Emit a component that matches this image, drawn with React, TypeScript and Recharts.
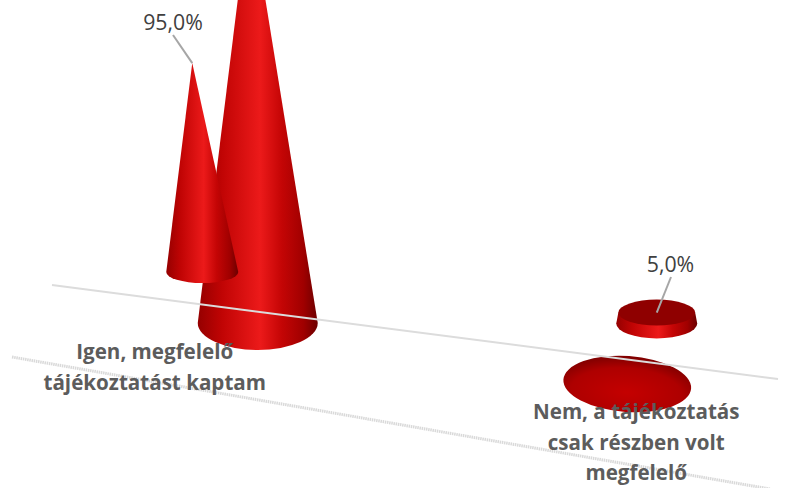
import { BarChart, Bar, XAxis, YAxis, LabelList, ReferenceLine } from "recharts";

const categories = [
  "Igen, megfelelő tájékoztatást kaptam",
  "Nem, a tájékoztatás csak részben volt megfelelő",
];
const backValues = [95, 5];
const frontValues = [100, 0];

const data = categories.map((name, i) => ({
  name,
  back: backValues[i],
  front: frontValues[i],
}));

// perspective placement of each cone, relative to the bar the scale gives
const BACK_SPOTS = [
  { dx: -36.75, dy: -148, rx: 36, ry: 11, lean: -10, tilt: 0 },
  { dx: 20.25, dy: -96.5, rx: 40.5, ry: 15, lean: 0, tilt: 0 },
];
const FRONT_SPOTS = [
  { dx: 98.75, dy: -97, rx: 60, ry: 27, lean: -8, tilt: 0 },
  { dx: 70.75, dy: -36, rx: 64, ry: 28, lean: 0, tilt: 4 },
];
const LABEL_SPOTS = [
  { x: 173, y: 30, lineX: 173, lineY: 35 },
  { x: 670.5, y: 272, lineX: 671, lineY: 277 },
];
const TICK_SPOTS = [
  { dx: -44, y: 359 },
  { dx: 40, y: 419 },
];

function Cone({ x, y, width, height, index, value, spots, maxValue }: any) {
  const s = spots[index];
  const cx = x + width / 2 + s.dx;
  const baseY = y + height + s.dy;
  if (height < 1) {
    return (
      <ellipse
        cx={cx}
        cy={baseY}
        rx={s.rx}
        ry={s.ry}
        fill="url(#flatFill)"
        transform={`rotate(${s.tilt} ${cx} ${baseY})`}
      />
    );
  }
  const taper = 1 - value / maxValue;
  const topX = cx + s.lean * (value / maxValue);
  const topY = baseY - height;
  const rt = s.rx * taper;
  const d =
    `M${cx - s.rx} ${baseY} L${topX - rt} ${topY} L${topX + rt} ${topY} ` +
    `L${cx + s.rx} ${baseY} A${s.rx} ${s.ry} 0 0 1 ${cx - s.rx} ${baseY} Z`;
  return (
    <g>
      <path d={d} fill="url(#coneFill)" />
      {taper > 0.01 && (
        <ellipse cx={topX} cy={topY} rx={rt} ry={s.ry * 0.86} fill="#8f0000" />
      )}
    </g>
  );
}

function ValueLabel({ x, y, width, index, value }: any) {
  const s = LABEL_SPOTS[index];
  const b = BACK_SPOTS[index];
  const tipX = x + width / 2 + b.dx + b.lean * (value / Math.max(...backValues));
  const tipY = y + b.dy;
  return (
    <g>
      <line x1={s.lineX} y1={s.lineY} x2={tipX} y2={tipY} stroke="#a6a6a6" strokeWidth={2} />
      <text
        x={s.x}
        y={s.y}
        textAnchor="middle"
        fontFamily="Open Sans"
        fontSize={21.3}
        fill="#404040"
      >
        {value.toFixed(1).replace(".", ",") + "%"}
      </text>
    </g>
  );
}

function wrapWords(label: string, maxChars: number) {
  const lines: string[] = [];
  let cur = "";
  label.split(" ").forEach((w) => {
    const next = cur ? cur + " " + w : w;
    if (next.length > maxChars) {
      lines.push(cur);
      cur = w;
    } else {
      cur = next;
    }
  });
  lines.push(cur);
  return lines;
}

function CategoryTick({ x, index, payload }: any) {
  const s = TICK_SPOTS[index];
  return (
    <text
      textAnchor="middle"
      fontFamily="Open Sans"
      fontWeight={700}
      fontSize={20.6}
      fill="#5c5c5c"
    >
      {wrapWords(payload.value, 20).map((line, i) => (
        <tspan key={i} x={x + s.dx} y={s.y + i * 30.5}>
          {line}
        </tspan>
      ))}
    </text>
  );
}

export default function App() {
  return (
    <div
      style={{
        position: "absolute",
        left: 0,
        top: 0,
        width: 795,
        height: 488,
        background: "#fff",
        overflow: "hidden",
      }}
    >
      <BarChart
        width={795}
        height={488}
        data={data}
        margin={{ top: 0, right: 0, bottom: 0, left: 0 }}
        barSize={80}
        barGap={0}
      >
        <defs>
          <linearGradient id="coneFill" x1="0" y1="0" x2="1" y2="0">
            <stop offset="0" stopColor="#950000" />
            <stop offset="0.2" stopColor="#c00404" />
            <stop offset="0.52" stopColor="#ec1a1a" />
            <stop offset="0.7" stopColor="#c40505" />
            <stop offset="0.88" stopColor="#a00000" />
            <stop offset="1" stopColor="#6c0000" />
          </linearGradient>
          <radialGradient id="flatFill" cx="0.5" cy="0.65" r="0.62">
            <stop offset="0" stopColor="#c40000" />
            <stop offset="0.7" stopColor="#ae0000" />
            <stop offset="1" stopColor="#820000" />
          </radialGradient>
        </defs>
        <XAxis
          dataKey="name"
          height={68}
          axisLine={false}
          tickLine={false}
          interval={0}
          tick={<CategoryTick />}
        />
        <YAxis yAxisId="back" hide domain={[0, 191]} />
        <YAxis yAxisId="front" hide domain={[0, 100]} />
        <line
          x1={12}
          y1={357}
          x2={770}
          y2={489}
          stroke="#d9d9d9"
          strokeWidth={3}
          strokeDasharray="1.5 0.7"
        />
        <Bar
          yAxisId="front"
          dataKey="front"
          isAnimationActive={false}
          shape={(p: any) => (
            <Cone {...p} spots={FRONT_SPOTS} maxValue={Math.max(...frontValues)} />
          )}
        />
        <Bar
          yAxisId="back"
          dataKey="back"
          isAnimationActive={false}
          shape={(p: any) => (
            <Cone {...p} spots={BACK_SPOTS} maxValue={Math.max(...backValues)} />
          )}
        >
          <LabelList dataKey="back" content={<ValueLabel />} />
        </Bar>
        <ReferenceLine
          yAxisId="front"
          y={0}
          shape={() => (
            <line x1={52} y1={285} x2={778} y2={379} stroke="#dcdcdc" strokeWidth={2} />
          )}
        />
      </BarChart>
    </div>
  );
}
